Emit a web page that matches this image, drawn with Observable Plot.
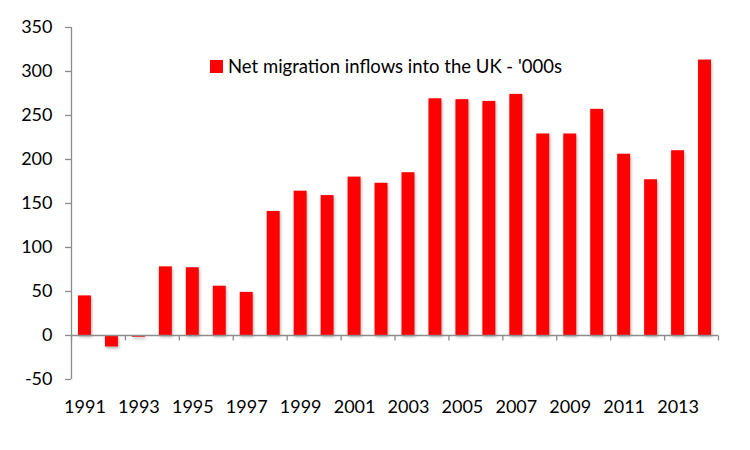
<!DOCTYPE html>
<html><head><meta charset="utf-8">
<script src="https://cdn.jsdelivr.net/npm/d3@7"></script>
<script src="https://cdn.jsdelivr.net/npm/@observablehq/plot@0.6"></script>
<style>
body{margin:0;background:#fff;font-family:Lato,sans-serif}
#wrap{position:relative;width:750px;height:450px}
#legend{position:absolute;left:210px;top:55px;display:flex;align-items:center;font-size:18.5px;color:#000;font-family:Lato,sans-serif;z-index:2;white-space:nowrap}
#legend .sw{display:inline-block;width:13px;height:13px;background:#ff0000;margin-right:5px}
g[aria-label="rect"]{filter:drop-shadow(1px 2px 1.5px rgba(0,0,0,0.3))}
</style></head><body>
<div id="wrap"><div id="legend"><span class="sw"></span><span>Net migration inflows into the UK - '000s</span></div></div>
<script>
const years = [1991,1992,1993,1994,1995,1996,1997,1998,1999,2000,2001,2002,2003,2004,2005,2006,2007,2008,2009,2010,2011,2012,2013,2014];
const values = [45,-13,-2,78,77,56,49,141,164,159,180,173,185,269,268,266,274,229,229,257,206,177,210,313];
const yTicks = [-50,0,50,100,150,200,250,300,350];
const xLabelYears = [1991,1993,1995,1997,1999,2001,2003,2005,2007,2009,2011,2013];
const xBoundaries = [1990.5,1992.5,1994.5,1996.5,1998.5,2000.5,2002.5,2004.5,2006.5,2008.5,2010.5,2012.5,2014.5];

const data = years.map((year, i) => ({year, value: values[i]}));
const tickShape = {draw(ctx) { ctx.moveTo(0, 0); ctx.lineTo(0, 5); }};
const axisColor = "#8c8c8c";

const chart = Plot.plot({
  width: 750, height: 450,
  marginLeft: 71, marginRight: 32, marginTop: 27, marginBottom: 71,
  style: {fontFamily: "Lato, sans-serif", fontSize: "18px", color: "#000", background: "transparent", overflow: "visible"},
  x: {domain: [1990.5, 2014.5], axis: null},
  y: {domain: [-50, 350], axis: null},
  marks: [
    Plot.rectY(data, {x1: d => d.year - 0.24, x2: d => d.year + 0.24, y1: 0, y2: "value", fill: "#ff0000"}),
    Plot.ruleY([0], {stroke: axisColor, strokeWidth: 1.3}),
    Plot.ruleX([1990.5], {y1: -50, y2: 350, stroke: axisColor, strokeWidth: 1.3}),
    Plot.dot(xBoundaries, {x: d => d, y: 0, symbol: tickShape, stroke: axisColor, fill: "none", strokeWidth: 1.3}),
    Plot.axisY(yTicks, {anchor: "left", label: null, tickSize: 6, tickPadding: 13, stroke: axisColor, fill: "#000", strokeWidth: 1.3, tickFormat: d => String(d)}),
    Plot.axisX(xLabelYears, {anchor: "bottom", label: null, tickSize: 0, tickPadding: 21, fill: "#000", tickFormat: d => String(d)})
  ]
});
document.getElementById("wrap").appendChild(chart);
chart.style.position = "absolute";
chart.style.left = "0";
chart.style.top = "0";
</script>
</body></html>
